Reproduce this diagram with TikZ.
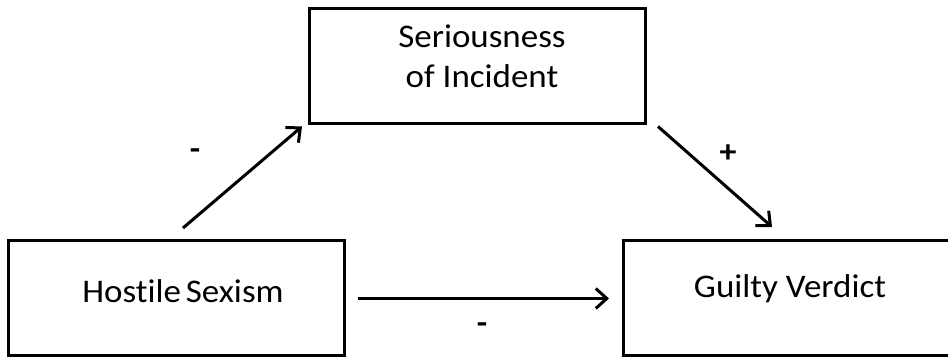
\documentclass[tikz,border=0pt]{standalone}
\usepackage{fontspec}
\setmainfont[Ligatures=NoCommon,FakeStretch=1.06]{Carlito}
\usetikzlibrary{arrows.meta,calc}
\begin{document}
\begin{tikzpicture}[x=1pt,y=1pt,
  box/.style={draw=black,line width=3pt,rectangle,inner sep=0pt,minimum width=336pt,minimum height=115pt},
  txt/.style={anchor=base,inner sep=0pt,font=\fontsize{33}{40}\selectfont},
  sgn/.style={inner sep=0pt,font=\fontsize{32}{38}\selectfont\bfseries},
  arr/.style={line width=3pt,-{Straight Barb[length=11pt,width=20pt,line width=3pt]}}]
\clip (0,0) rectangle (948,358);
\fill[white] (0,0) rectangle (948,358);
\node[box] (hs) at (176,59.5) {};
\node[box] (si) at (477.5,291.5) {};
\node[box] (gv) at (791.5,59.5) {};
\node[txt] (t1) at (482,310) {Seriousness};
\node[txt] (t2) at (482,270) {of Incident};
\node[txt] (t3) at (183,55) {Hostile\hspace{-3pt} Sexism};
\node[txt] (t4) at (790,60) {Guilty Verdict};
\coordinate (a1) at (183,130);
\coordinate (a2) at ($(si.south west)+(-6,-1)$);
\coordinate (b1) at ($(si.south east)+(11,-1)$);
\coordinate (b2) at (772,131);
\draw[arr] (a1) -- (a2);
\draw[arr] (b1) -- (b2);
\draw[arr] ([xshift=12pt]hs.east) -- ([xshift=-13pt]gv.west);
\node[sgn] (m1) at (195,204) {-};
\node[sgn] (p1) at (728,204) {+};
\node[sgn] (m2) at (482,30) {-};
\end{tikzpicture}
\end{document}
